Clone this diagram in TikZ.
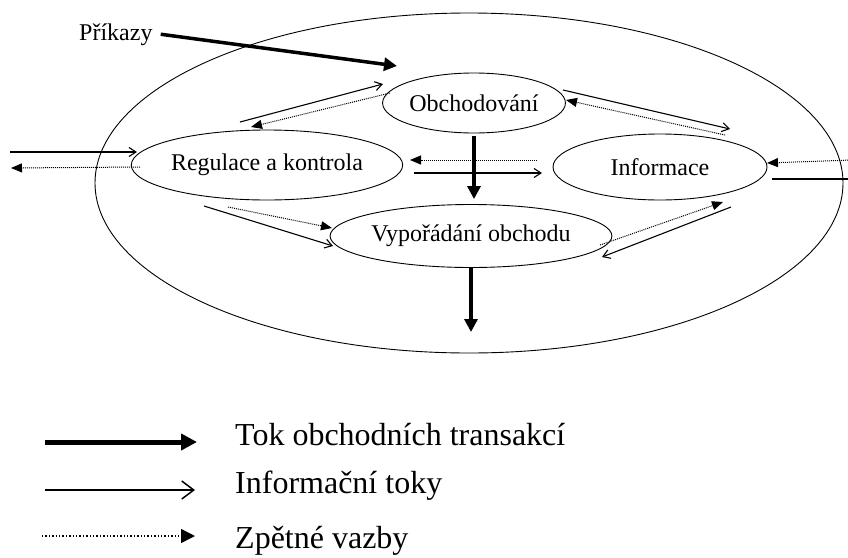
\documentclass[tikz,border=0pt]{standalone}
\usepackage{fontspec}
\setmainfont{Liberation Serif}
\usetikzlibrary{arrows.meta,shapes.geometric}

\tikzset{
  part/.style={draw, ellipse, inner sep=0pt, line width=0.9pt},
  trade/.style={line width=3.5pt, -{Triangle[length=13pt,width=13pt]}},
  info/.style={line width=1.1pt, -{Straight Barb[length=7pt,width=9pt]}},
  fback/.style={line width=1pt, dash pattern=on 1pt off 1pt, -{Triangle[length=11pt,width=9pt]}},
}

\begin{document}
\begin{tikzpicture}[x=1pt,y=-1pt,every node/.style={font=\fontsize{24}{28}\selectfont}]
  \useasboundingbox (0,0) rectangle (848,557);

  % The market as a whole
  \node[part, minimum width=748pt, minimum height=340pt] (market) at (469,183) {};

  % Parts of the market
  \node[part, minimum width=182pt, minimum height=60pt] (obch) at (474,103) {Obchodování};
  \node[part, minimum width=237pt, minimum height=70pt] (reg) at (267,165) {Regulace a kontrola};
  \node[part, minimum width=214pt, minimum height=66pt] (inf) at (660,167) {Informace};
  \node[part, minimum width=262pt, minimum height=63pt] (vyp) at (471,236) {Vypořádání obchodu};

  % Orders coming in
  \node[anchor=base west, inner sep=0pt] (prik) at (79,40) {Příkazy};
  \coordinate (prikEnd) at (397,66);
  \draw[trade] ([xshift=8pt]prik.east) -- (prikEnd);

  % Obchodovani <-> Regulace
  \coordinate (or1) at (240,122);
  \coordinate (or2) at (383,84);
  \coordinate (or3) at (390,93);
  \coordinate (or4) at (251,127);
  \draw[info] (or1) -- (or2);
  \draw[fback] (or3) -- (or4);

  % Obchodovani <-> Informace
  \coordinate (oi1) at (563,90);
  \coordinate (oi2) at (730,129);
  \coordinate (oi3) at (725,135);
  \coordinate (oi4) at (566,100);
  \draw[info] (oi1) -- (oi2);
  \draw[fback] (oi3) -- (oi4);

  % Regulace <-> Informace
  \coordinate (ri1) at (414,173);
  \coordinate (ri2) at (542,173);
  \coordinate (ri3) at (537,160);
  \coordinate (ri4) at (410,160);
  \draw[info] (ri1) -- (ri2);
  \draw[fback] (ri3) -- (ri4);

  % Regulace <-> outside (left)
  \coordinate (lx1) at (10,152);
  \coordinate (lx2) at (137,152);
  \coordinate (lx3) at (140,167);
  \coordinate (lx4) at (11,168);
  \draw[info] (lx1) -- (lx2);
  \draw[fback] (lx3) -- (lx4);

  % Informace <-> outside (right)
  \coordinate (rx1) at (852,160);
  \coordinate (rx2) at (767,163);
  \coordinate (rx3) at (772,179);
  \coordinate (rx4) at (852,179);
  \draw[fback] (rx1) -- (rx2);
  \draw[line width=1.1pt] (rx3) -- (rx4);

  % Regulace -> Vyporadani
  \coordinate (rv1) at (204,206);
  \coordinate (rv2) at (333,246);
  \coordinate (rv3) at (228,207);
  \coordinate (rv4) at (332,228);
  \draw[info] (rv1) -- (rv2);
  \draw[fback] (rv3) -- (rv4);

  % Informace <-> Vyporadani
  \coordinate (iv1) at (731,207);
  \coordinate (iv2) at (602,257);
  \coordinate (iv3) at (600,245);
  \coordinate (iv4) at (723,202);
  \draw[info] (iv1) -- (iv2);
  \draw[fback] (iv3) -- (iv4);

  % Trades flowing down
  \coordinate (out) at (471,332);
  \draw[trade, shorten <=3pt, shorten >=5pt] (obch.south) -- (obch.south |- vyp.north);
  \draw[trade] (vyp.south) -- (out);

  % Legend
  \coordinate (k1a) at (45,442);
  \coordinate (k1b) at (197,442);
  \coordinate (k2a) at (45,490);
  \coordinate (k2b) at (195,490);
  \coordinate (k3a) at (42,536);
  \coordinate (k3b) at (195,536);
  \draw[line width=5pt, -{Triangle[length=16pt,width=16pt]}] (k1a) -- (k1b);
  \draw[line width=1.5pt, -{Straight Barb[length=12pt,width=18pt]}] (k2a) -- (k2b);
  \draw[line width=1.4pt, dotted, -{Triangle[length=14pt,width=14pt]}] (k3a) -- (k3b);
  \node[anchor=base west, inner sep=0pt, font=\fontsize{32}{36}\selectfont] (kt1) at (235,445) {Tok obchodních transakcí};
  \node[anchor=base west, inner sep=0pt, font=\fontsize{32}{36}\selectfont] (kt2) at (235,493) {Informační toky};
  \node[anchor=base west, inner sep=0pt, font=\fontsize{32}{36}\selectfont] (kt3) at (235,548) {Zpětné vazby};
\end{tikzpicture}
\end{document}
